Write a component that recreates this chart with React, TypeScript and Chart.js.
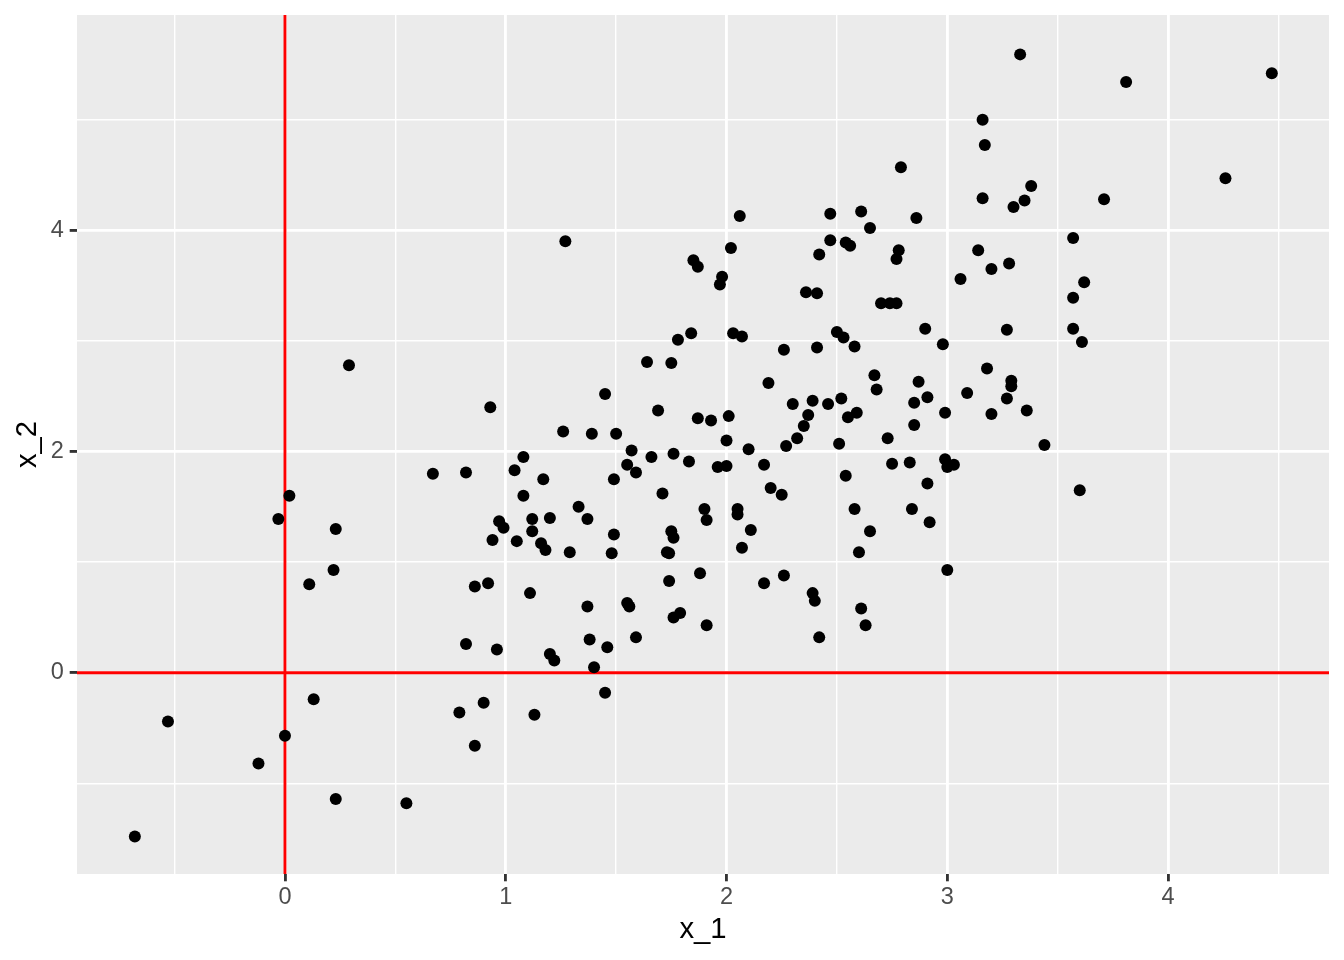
import React, { useEffect, useRef } from 'react';
import { Chart, registerables } from 'chart.js';

Chart.register(...registerables);

// x_1 values (one per point)
const x1Values: number[] = [
  3.33, 3.81, 4.47, 3.16, 3.17, 4.26, 3.38, 3.35, 3.30, 3.16,
  3.71, 2.86, 3.57, 3.14, 3.28, 3.20, 3.06, 3.62, 3.57, 2.79,
  2.06, 2.47, 2.61, 2.65, 1.27, 2.02, 2.47, 2.54, 2.56, 2.42,
  2.78, 2.77, 1.85, 1.87, 1.98, 1.97, 2.36, 2.41, 2.70, 2.74,
  2.77, 2.90, 1.84, 1.78, 2.03, 2.07, 2.50, 2.53, 2.58, 2.26,
  2.41, 1.64, 1.75, 2.67, 2.68, 2.87, 2.91, 2.85, 2.19, 1.45,
  2.30, 2.39, 2.46, 2.52, 1.69, 2.37, 2.59, 2.55, 1.87, 1.93,
  2.01, 2.35, 2.85, 1.26, 1.39, 1.50, 2.32, 2.73, 2.00, 2.27,
  2.51, 2.10, 1.57, 1.08, 1.66, 1.76, 1.83, 2.75, 2.83, 2.91,
  2.17, 1.04, 1.55, 1.59, 1.96, 2.00, 2.54, 1.17, 1.49, 1.08,
  1.71, 2.20, 2.25, 2.58, 2.84, 1.33, 1.90, 2.05, 0.97, 0.99,
  1.12, 1.20, 1.37, 2.05, 1.91, 1.12, 1.49, 1.75, 1.76, 2.11,
  2.65, 2.92, 1.05, 1.16, 1.18, 1.29, 1.48, 1.73, 1.74, 2.07,
  2.60, 1.88, 1.74, 2.17, 2.26, 2.39, 1.11, 3.27, 3.57, 2.98,
  3.61, 3.18, 3.29, 3.29, 3.09, 3.27, 2.99, 3.20, 3.36, 3.44,
  2.99, 3.03, 3.00, 3.60, 3.00, 0.29, 0.93, 0.67, 0.82, 0.02,
  -0.03, 0.23, 0.94, 0.22, 0.11, 0.86, 0.92, 0.82, 0.96, 0.13,
  0.90, 0.79, -0.53, 0.00, 0.86, -0.12, 0.23, 0.55, -0.68, 1.37,
  1.55, 1.56, 2.40, 2.61, 2.63, 2.42, 1.76, 1.79, 1.91, 1.20,
  1.22, 1.38, 1.46, 1.59, 1.40, 1.45, 1.13,
];

// x_2 values (same order as x1Values)
const x2Values: number[] = [
  5.59, 5.34, 5.42, 5.00, 4.77, 4.47, 4.40, 4.27, 4.21, 4.29,
  4.28, 4.11, 3.93, 3.82, 3.70, 3.65, 3.56, 3.53, 3.39, 4.57,
  4.13, 4.15, 4.17, 4.02, 3.90, 3.84, 3.91, 3.89, 3.86, 3.78,
  3.82, 3.74, 3.73, 3.67, 3.58, 3.51, 3.44, 3.43, 3.34, 3.34,
  3.34, 3.11, 3.07, 3.01, 3.07, 3.04, 3.08, 3.03, 2.95, 2.92,
  2.94, 2.81, 2.80, 2.69, 2.56, 2.63, 2.49, 2.44, 2.62, 2.52,
  2.43, 2.46, 2.43, 2.48, 2.37, 2.33, 2.35, 2.31, 2.30, 2.28,
  2.32, 2.23, 2.24, 2.18, 2.16, 2.16, 2.12, 2.12, 2.10, 2.05,
  2.07, 2.02, 2.01, 1.95, 1.95, 1.98, 1.91, 1.89, 1.90, 1.71,
  1.88, 1.83, 1.88, 1.81, 1.86, 1.87, 1.78, 1.75, 1.75, 1.60,
  1.62, 1.67, 1.61, 1.48, 1.48, 1.50, 1.48, 1.48, 1.37, 1.31,
  1.39, 1.40, 1.39, 1.43, 1.38, 1.28, 1.25, 1.28, 1.22, 1.29,
  1.28, 1.36, 1.19, 1.17, 1.11, 1.09, 1.08, 1.09, 1.08, 1.13,
  1.09, 0.90, 0.83, 0.81, 0.88, 0.72, 0.72, 3.10, 3.11, 2.97,
  2.99, 2.75, 2.64, 2.59, 2.53, 2.48, 2.35, 2.34, 2.37, 2.06,
  1.93, 1.88, 1.86, 1.65, 0.93, 2.78, 2.40, 1.80, 1.81, 1.60,
  1.39, 1.30, 1.20, 0.93, 0.80, 0.78, 0.81, 0.26, 0.21, -0.24,
  -0.27, -0.36, -0.44, -0.57, -0.66, -0.82, -1.14, -1.18, -1.48, 0.60,
  0.63, 0.60, 0.65, 0.58, 0.43, 0.32, 0.50, 0.54, 0.43, 0.17,
  0.11, 0.30, 0.23, 0.32, 0.05, -0.18, -0.38,
];

// axis breaks (major + minor) and labelled major breaks
const xBreaks: number[] = [-0.5, 0, 0.5, 1, 1.5, 2, 2.5, 3, 3.5, 4, 4.5];
const xMajorBreaks: number[] = [0, 1, 2, 3, 4];
const yBreaks: number[] = [-1, 0, 1, 2, 3, 4, 5];
const yMajorBreaks: number[] = [0, 2, 4];
const xLimits: number[] = [-0.942, 4.729];
const yLimits: number[] = [-1.819, 5.946];
const hlineAt = 0;
const vlineAt = 0;
const xTitle = 'x_1';
const yTitle = 'x_2';

const FONT = "'Liberation Sans', Arial, Helvetica, sans-serif";

const panelPlugin = {
  id: 'ggPanel',
  beforeDraw(chart: any) {
    const { ctx, chartArea } = chart;
    ctx.save();
    ctx.fillStyle = '#EBEBEB';
    ctx.fillRect(chartArea.left, chartArea.top, chartArea.right - chartArea.left, chartArea.bottom - chartArea.top);
    ctx.restore();
  },
  beforeDatasetsDraw(chart: any) {
    const { ctx, chartArea, scales } = chart;
    const px = scales.x.getPixelForValue(vlineAt);
    const py = scales.y.getPixelForValue(hlineAt);
    ctx.save();
    ctx.beginPath();
    ctx.rect(chartArea.left, chartArea.top, chartArea.right - chartArea.left, chartArea.bottom - chartArea.top);
    ctx.clip();
    ctx.strokeStyle = '#FF0000';
    ctx.lineWidth = 2.85;
    ctx.beginPath();
    ctx.moveTo(chartArea.left, py);
    ctx.lineTo(chartArea.right, py);
    ctx.stroke();
    ctx.beginPath();
    ctx.moveTo(px, chartArea.top);
    ctx.lineTo(px, chartArea.bottom);
    ctx.stroke();
    ctx.restore();
  },
};

export default function App() {
  const canvasRef = useRef<HTMLCanvasElement>(null);

  useEffect(() => {
    if (!canvasRef.current) return;
    const points = x1Values.map((x, i) => ({ x, y: x2Values[i] }));
    const isMajorX = (v: number) => xMajorBreaks.includes(v);
    const isMajorY = (v: number) => yMajorBreaks.includes(v);

    const chart = new Chart(canvasRef.current, {
      type: 'scatter',
      data: {
        datasets: [
          {
            data: points,
            backgroundColor: '#000000',
            borderWidth: 0,
            pointRadius: 6,
            pointHoverRadius: 6,
          },
        ],
      },
      plugins: [panelPlugin],
      options: {
        responsive: false,
        animation: false,
        devicePixelRatio: 1,
        events: [],
        layout: { padding: { left: 0, right: 15, top: 15, bottom: 0 } },
        plugins: { legend: { display: false }, tooltip: { enabled: false } },
        scales: {
          x: {
            type: 'linear',
            position: 'bottom',
            min: xLimits[0],
            max: xLimits[1],
            afterBuildTicks: (scale: any) => {
              scale.ticks = xBreaks.map((v) => ({ value: v }));
            },
            afterFit: (scale: any) => {
              scale.height = 86;
              scale.paddingLeft = 0;
              scale.paddingRight = 0;
            },
            border: { display: false },
            grid: {
              color: '#FFFFFF',
              lineWidth: (c: any) => (c.tick && isMajorX(c.tick.value) ? 2.85 : 1.42),
              drawTicks: true,
              tickLength: 7.3,
              tickWidth: 2.85,
              tickColor: (c: any) => (c.tick && isMajorX(c.tick.value) ? '#333333' : 'rgba(0,0,0,0)'),
            },
            ticks: {
              autoSkip: false,
              maxRotation: 0,
              padding: 2,
              color: '#4D4D4D',
              font: { family: FONT, size: 23.5 },
              callback: (v: any) => (isMajorX(Number(v)) ? String(v) : ''),
            },
            title: {
              display: true,
              text: xTitle,
              color: '#000000',
              font: { family: FONT, size: 29.3 },
              padding: { top: 0, bottom: 13 },
            },
          },
          y: {
            type: 'linear',
            position: 'left',
            min: yLimits[0],
            max: yLimits[1],
            afterBuildTicks: (scale: any) => {
              scale.ticks = yBreaks.map((v) => ({ value: v }));
            },
            afterFit: (scale: any) => {
              scale.width = 77;
              scale.paddingTop = 0;
              scale.paddingBottom = 0;
            },
            border: { display: false },
            grid: {
              color: '#FFFFFF',
              lineWidth: (c: any) => (c.tick && isMajorY(c.tick.value) ? 2.85 : 1.42),
              drawTicks: true,
              tickLength: 7.3,
              tickWidth: 2.85,
              tickColor: (c: any) => (c.tick && isMajorY(c.tick.value) ? '#333333' : 'rgba(0,0,0,0)'),
            },
            ticks: {
              autoSkip: false,
              padding: 6,
              color: '#4D4D4D',
              font: { family: FONT, size: 23.5 },
              callback: (v: any) => (isMajorY(Number(v)) ? String(v) : ''),
            },
            title: {
              display: true,
              text: yTitle,
              color: '#000000',
              font: { family: FONT, size: 29.3 },
              padding: { top: 10, bottom: 0 },
            },
          },
        },
      } as any,
    });

    return () => chart.destroy();
  }, []);

  return (
    <div style={{ position: 'fixed', left: 0, top: 0, width: 1344, height: 960, background: '#FFFFFF' }}>
      <canvas ref={canvasRef} width={1344} height={960} style={{ display: 'block', width: 1344, height: 960 }} />
    </div>
  );
}
